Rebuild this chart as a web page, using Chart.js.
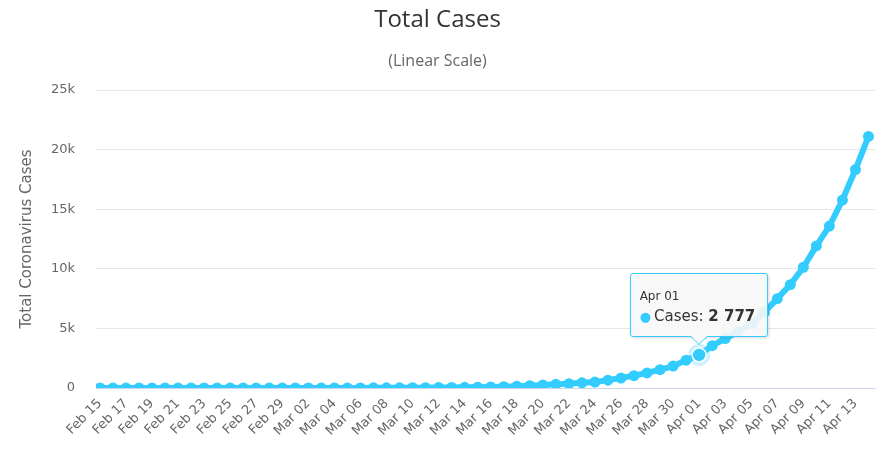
<!DOCTYPE html>
<html>
<head>
<meta charset="utf-8">
<script src="https://cdn.jsdelivr.net/npm/chart.js@4.4.0/dist/chart.umd.min.js"></script>
<style>
  html, body { margin: 0; padding: 0; background: #fff; }
  #wrap { position: relative; width: 882px; height: 462px; }
  #tip {
    position: absolute; pointer-events: none;
    background: rgba(247,247,247,0.9);
    border: 1px solid #33ccff; border-radius: 3px;
    box-shadow: 1px 1px 3px rgba(0,0,0,0.15);
    font-family: "DejaVu Sans", Verdana, sans-serif; color: #333;
    padding: 15px 12px 10px 9px; white-space: nowrap;
  }
  #tip .t { font-size: 12px; line-height: 14px; margin-bottom: 4px; }
  #tip .b { font-size: 15px; line-height: 18px; }
  #tip .dot { color: #33ccff; font-size: 13px; margin-right: 3px; }
  #tip:after, #tip:before {
    content: ""; position: absolute; left: 50%; border: solid transparent;
  }
  #tip:before { top: 100%; margin-left: -9px; border-width: 9px; border-top-color: #33ccff; }
  #tip:after { top: 100%; margin-left: -8px; border-width: 8px; border-top-color: #f7f7f7; }
</style>
</head>
<body>
<div id="wrap">
  <canvas id="casos" width="882" height="462"></canvas>
  <div id="tip" style="display:none"></div>
</div>
<script>
// datos
const dias = ['Feb 15','Feb 16','Feb 17','Feb 18','Feb 19','Feb 20','Feb 21','Feb 22','Feb 23','Feb 24',
  'Feb 25','Feb 26','Feb 27','Feb 28','Feb 29','Mar 01','Mar 02','Mar 03','Mar 04','Mar 05',
  'Mar 06','Mar 07','Mar 08','Mar 09','Mar 10','Mar 11','Mar 12','Mar 13','Mar 14','Mar 15',
  'Mar 16','Mar 17','Mar 18','Mar 19','Mar 20','Mar 21','Mar 22','Mar 23','Mar 24','Mar 25',
  'Mar 26','Mar 27','Mar 28','Mar 29','Mar 30','Mar 31','Apr 01','Apr 02','Apr 03','Apr 04',
  'Apr 05','Apr 06','Apr 07','Apr 08','Apr 09','Apr 10','Apr 11','Apr 12','Apr 13','Apr 14'];
const casos = [2, 2, 2, 2, 2, 2, 2, 2, 2, 2,
  2, 2, 2, 2, 2, 2, 3, 3, 3, 4,
  10, 14, 17, 17, 20, 28, 34, 45, 59, 63,
  90, 114, 147, 199, 253, 306, 367, 438, 495, 658,
  840, 1036, 1264, 1534, 1836, 2337, 2777, 3548, 4149, 4731,
  5389, 6343, 7497, 8672, 10131, 11917, 13584, 15770, 18328, 21102];
const yTicks = [0, 5000, 10000, 15000, 20000, 25000];
const activo = 46; // Apr 01

const azul = '#33ccff';

function miles(v) {
  return String(v).replace(/\B(?=(\d{3})+(?!\d))/g, ' ');
}

// punto activo con halo
const halo = {
  id: 'halo',
  afterDatasetsDraw(chart) {
    const act = chart.getActiveElements();
    if (!act.length) return;
    const el = act[0].element;
    const c = chart.ctx;
    c.save();
    c.beginPath();
    c.arc(el.x, el.y, 11, 0, Math.PI * 2);
    c.fillStyle = 'rgba(51,204,255,0.25)';
    c.fill();
    c.beginPath();
    c.arc(el.x, el.y, 7, 0, Math.PI * 2);
    c.fillStyle = azul;
    c.fill();
    c.lineWidth = 1.5;
    c.strokeStyle = '#ffffff';
    c.stroke();
    c.restore();
  }
};

function tooltipExterno(context) {
  const tip = document.getElementById('tip');
  const m = context.tooltip;
  if (m.opacity === 0 || !m.dataPoints || !m.dataPoints.length) { tip.style.display = 'none'; return; }
  const p = m.dataPoints[0];
  tip.innerHTML = '<div class="t">' + dias[p.dataIndex] + '</div>' +
    '<div class="b"><span class="dot">\u25CF</span>Cases: <b>' + miles(p.parsed.y) + '</b></div>';
  tip.style.display = 'block';
  const w = tip.offsetWidth, h = tip.offsetHeight;
  tip.style.left = (m.caretX - w / 2) + 'px';
  tip.style.top = (m.caretY - h - 18) + 'px';
}

const grafico = new Chart(document.getElementById('casos'), {
  type: 'line',
  data: {
    datasets: [{
      label: 'Cases',
      data: casos.map((v, i) => ({ x: i, y: v })),
      borderColor: azul,
      backgroundColor: azul,
      borderWidth: 6,
      pointRadius: 5.5,
      pointBorderWidth: 0,
      pointHoverRadius: 5.5,
      pointHoverBorderWidth: 0,
      tension: 0,
      fill: false
    }]
  },
  options: {
    responsive: false,
    animation: false,
    events: [],
    layout: { padding: { left: 0, right: 7, top: 0, bottom: 0 } },
    plugins: {
      legend: { display: false },
      title: {
        display: true, text: 'Total Cases', color: '#333333',
        font: { family: '"Open Sans", sans-serif', size: 24, weight: 'normal' },
        padding: { top: 6, bottom: 10 }
      },
      subtitle: {
        display: true, text: '(Linear Scale)', color: '#666666',
        font: { family: '"Open Sans", sans-serif', size: 16, weight: 'normal' },
        padding: { top: 7, bottom: 19 }
      },
      tooltip: { enabled: false, external: tooltipExterno, mode: 'nearest', intersect: true }
    },
    scales: {
      x: {
        type: 'linear', min: -0.3, max: 59.5,
        afterFit: s => { s.height = 74; },
        grid: { display: false, drawTicks: false },
        border: { color: '#ccd6eb', width: 1 },
        ticks: {
          stepSize: 2, includeBounds: false, autoSkip: false,
          maxRotation: 45, minRotation: 45, padding: 8,
          color: '#666666', font: { family: '"DejaVu Sans", Verdana, sans-serif', size: 13 },
          callback: v => (Number.isInteger(v) && dias[v]) ? dias[v] : ''
        }
      },
      y: {
        min: 0, max: 25000,
        afterBuildTicks: s => { s.ticks = yTicks.map(v => ({ value: v })); },
        afterFit: s => { s.width = 96; },
        grid: { color: '#e6e6e6', drawTicks: false },
        border: { display: false },
        title: {
          display: true, text: 'Total Coronavirus Cases', color: '#666666',
          font: { family: '"DejaVu Sans", Verdana, sans-serif', size: 15 }, padding: { top: 18, bottom: 0 }
        },
        ticks: {
          color: '#666666', padding: 21,
          font: { family: '"DejaVu Sans", Verdana, sans-serif', size: 13 },
          callback: v => v === 0 ? '0' : (v / 1000) + 'k'
        }
      }
    }
  },
  plugins: [halo]
});

grafico.setActiveElements([{ datasetIndex: 0, index: activo }]);
const pt = grafico.getDatasetMeta(0).data[activo];
grafico.tooltip.setActiveElements([{ datasetIndex: 0, index: activo }], { x: pt.x, y: pt.y });
grafico.update();
</script>
</body>
</html>
